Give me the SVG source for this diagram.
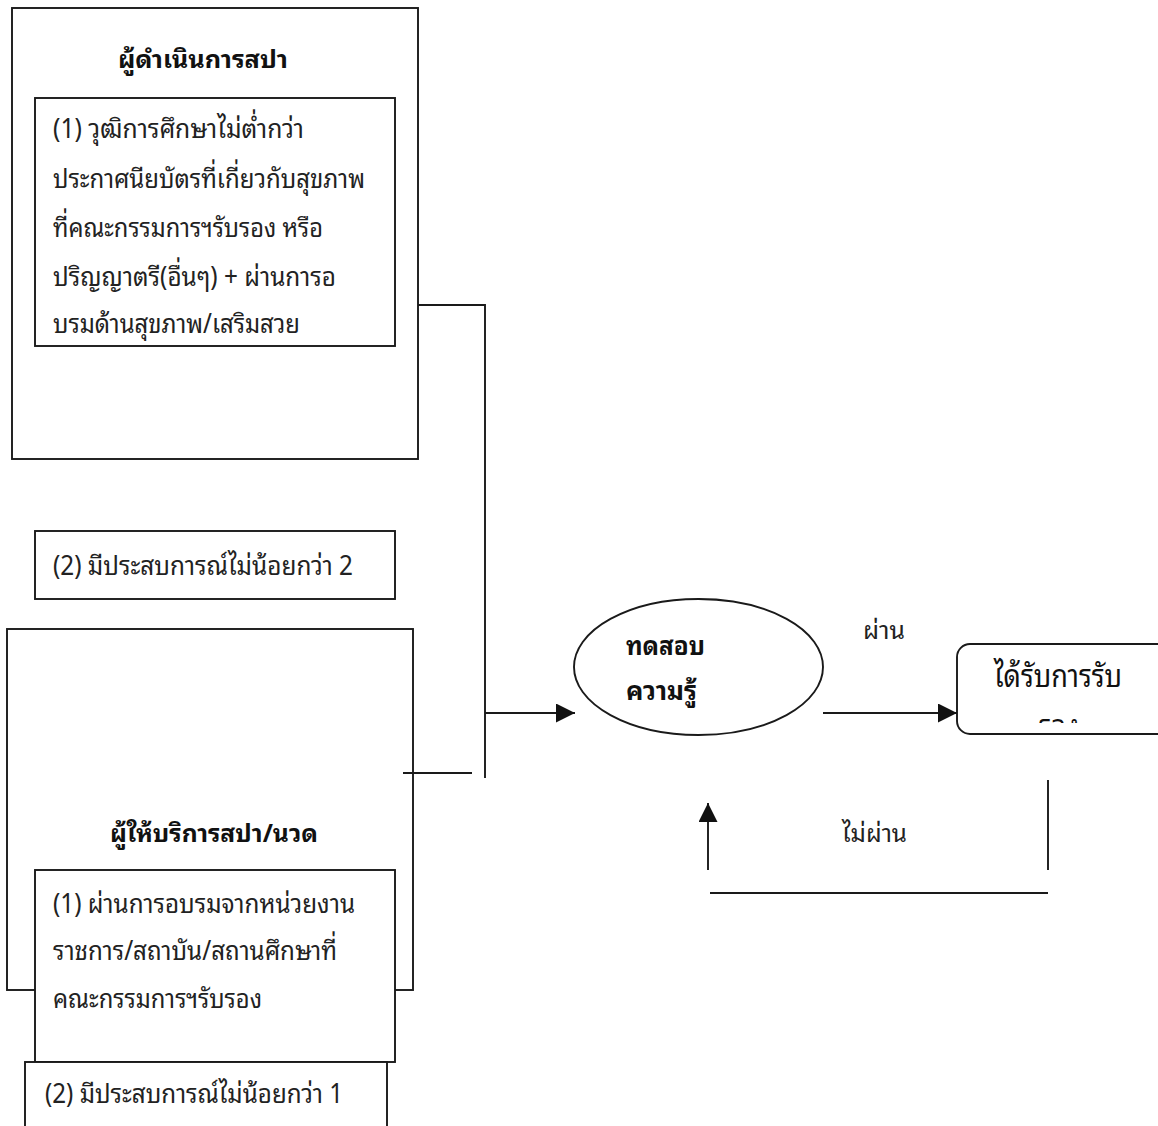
<svg xmlns="http://www.w3.org/2000/svg" width="1158" height="1126" viewBox="0 0 1158 1126">
  <style>
    .box { fill: #ffffff; stroke: #1a1a1a; stroke-width: 1.9; }
    .line { fill: none; stroke: #1a1a1a; stroke-width: 1.9; }
    .t { font-family: "Noto Sans Thai Looped", "Loma", "Garuda", "Tahoma", "Noto Sans Thai", "Noto Sans", sans-serif; font-size: 27px; fill: #222222; }
    .lbl { font-family: "Noto Sans Thai Looped", "Loma", "Garuda", "Tahoma", "Noto Sans Thai", "Noto Sans", sans-serif; font-size: 24px; fill: #222222; }
    .tb { font-family: "Noto Sans Thai Looped", "Loma", "Garuda", "Tahoma", "Noto Sans Thai", "Noto Sans", sans-serif; font-size: 25px; font-weight: bold; fill: #111111; }
    .tb2 { font-family: "Noto Sans Thai Looped", "Loma", "Garuda", "Tahoma", "Noto Sans Thai", "Noto Sans", sans-serif; font-size: 26px; font-weight: bold; fill: #111111; }
    .big { font-family: "Noto Sans Thai Looped", "Loma", "Garuda", "Tahoma", "Noto Sans Thai", "Noto Sans", sans-serif; font-size: 32px; fill: #111111; }
  </style>
  <defs>
    <marker id="arrow" viewBox="0 0 19 19" refX="19" refY="9.5" markerWidth="19" markerHeight="19" markerUnits="userSpaceOnUse" orient="auto">
      <path d="M0,0 L19,9.5 L0,19 Z" fill="#111111"/>
    </marker>
    <clipPath id="certClip">
      <rect x="957" y="644" width="201" height="79"/>
    </clipPath>
  </defs>
  <rect width="1158" height="1126" fill="#ffffff"/>

  <!-- Spa operator qualifications -->
  <g id="operator">
    <rect class="box" x="12" y="8" width="406" height="451"/>
    <text class="tb" x="118" y="68" textLength="170" lengthAdjust="spacingAndGlyphs">ผู้ดำเนินการสปา</text>
  </g>
  <g id="operator-education">
    <rect class="box" x="35" y="98" width="360" height="248"/>
    <text class="t" x="53" y="138" textLength="251" lengthAdjust="spacingAndGlyphs">(1) วุฒิการศึกษาไม่ต่ำกว่า</text>
    <text class="t" x="53" y="188" textLength="312" lengthAdjust="spacingAndGlyphs">ประกาศนียบัตรที่เกี่ยวกับสุขภาพ</text>
    <text class="t" x="53" y="237" textLength="270" lengthAdjust="spacingAndGlyphs">ที่คณะกรรมการฯรับรอง หรือ</text>
    <text class="t" x="53" y="286" textLength="283" lengthAdjust="spacingAndGlyphs">ปริญญาตรี(อื่นๆ) + ผ่านการอ</text>
    <text class="t" x="53" y="333" textLength="247" lengthAdjust="spacingAndGlyphs">บรมด้านสุขภาพ/เสริมสวย</text>
  </g>
  <g id="operator-experience">
    <rect class="box" x="35" y="531" width="360" height="68"/>
    <text class="t" x="53" y="575" textLength="300" lengthAdjust="spacingAndGlyphs">(2) มีประสบการณ์ไม่น้อยกว่า 2</text>
  </g>

  <!-- Spa / massage provider qualifications -->
  <g id="provider">
    <rect class="box" x="7" y="629" width="406" height="361"/>
    <text class="tb" x="110" y="842" textLength="208" lengthAdjust="spacingAndGlyphs">ผู้ให้บริการสปา/นวด</text>
  </g>
  <g id="provider-training">
    <rect class="box" x="35" y="870" width="360" height="192"/>
    <text class="t" x="53" y="913" textLength="302" lengthAdjust="spacingAndGlyphs">(1) ผ่านการอบรมจากหน่วยงาน</text>
    <text class="t" x="53" y="960" textLength="284" lengthAdjust="spacingAndGlyphs">ราชการ/สถาบัน/สถานศึกษาที่</text>
    <text class="t" x="53" y="1008" textLength="209" lengthAdjust="spacingAndGlyphs">คณะกรรมการฯรับรอง</text>
  </g>
  <g id="provider-experience">
    <rect class="box" x="25" y="1062" width="362" height="80"/>
    <text class="t" x="45" y="1103" textLength="298" lengthAdjust="spacingAndGlyphs">(2) มีประสบการณ์ไม่น้อยกว่า 1</text>
  </g>

  <!-- Knowledge test -->
  <g id="test">
    <ellipse class="box" cx="698.5" cy="667" rx="124.5" ry="68"/>
    <text class="tb2" x="626" y="655" textLength="79" lengthAdjust="spacingAndGlyphs">ทดสอบ</text>
    <text class="tb2" x="626" y="700" textLength="71" lengthAdjust="spacingAndGlyphs">ความรู้</text>
  </g>

  <!-- Certified -->
  <g id="certified">
    <rect class="box" x="957" y="644" width="215" height="90" rx="13" ry="13"/>
    <g clip-path="url(#certClip)">
      <text class="big" x="1058" y="687" text-anchor="middle" textLength="128" lengthAdjust="spacingAndGlyphs">ได้รับการรับ</text>
      <text class="big" x="1059" y="737" text-anchor="middle" textLength="40" lengthAdjust="spacingAndGlyphs">รอง</text>
    </g>
  </g>

  <!-- Connectors -->
  <g id="connectors">
    <polyline class="line" points="418,305 485,305 485,778"/>
    <line class="line" x1="403" y1="773" x2="472" y2="773"/>
    <line class="line" x1="485" y1="713" x2="575" y2="713" marker-end="url(#arrow)"/>
    <line class="line" x1="823" y1="713" x2="957" y2="713" marker-end="url(#arrow)"/>
    <line class="line" x1="1048" y1="780" x2="1048" y2="870"/>
    <line class="line" x1="710" y1="893" x2="1048" y2="893"/>
    <line class="line" x1="708" y1="870" x2="708" y2="803" marker-end="url(#arrow)"/>
    <text class="lbl" x="863" y="639" textLength="42" lengthAdjust="spacingAndGlyphs">ผ่าน</text>
    <text class="lbl" x="842" y="842" textLength="65" lengthAdjust="spacingAndGlyphs">ไม่ผ่าน</text>
  </g>
</svg>
